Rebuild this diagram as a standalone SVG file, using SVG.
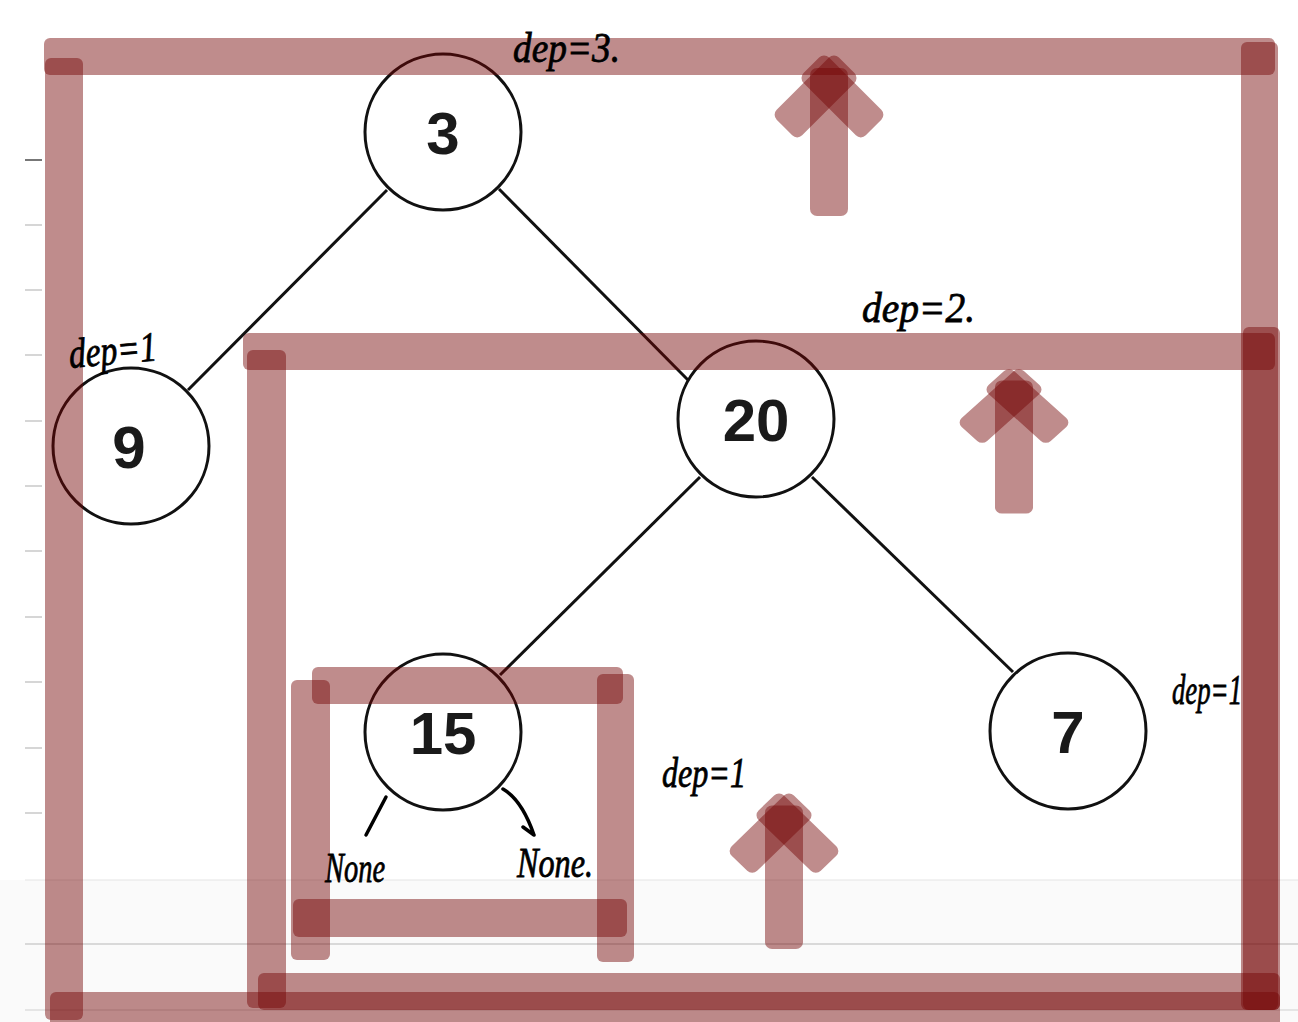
<svg xmlns="http://www.w3.org/2000/svg" width="1298" height="1022" viewBox="0 0 1298 1022">
<style>
.bar{fill:rgb(115,5,5);fill-opacity:0.46}
.node circle{fill:#fff;stroke:#111;stroke-width:3}
.node text{font-family:"Liberation Sans",Arial,sans-serif;font-weight:bold;font-size:60px;fill:#1a1a1a;text-anchor:middle}
.edge{stroke:#111;stroke-width:3;fill:none}
.hand{stroke:#000;stroke-width:3.5;fill:none;stroke-linecap:round}
.lbl{font-family:"Liberation Serif","DejaVu Serif",serif;font-style:italic;font-size:42px;fill:#000;stroke:#000;stroke-width:0.8}
.tick{stroke:#c8c8c8;stroke-width:1.5}
</style>
<defs>
<g id="arrow">
<rect class="bar" x="-19" y="16" width="38" height="148" rx="7"/>
<rect class="bar" x="-18" y="-25" width="36" height="88" rx="7" transform="translate(0,31) rotate(45)"/>
<rect class="bar" x="-18" y="-25" width="36" height="88" rx="7" transform="translate(0,31) rotate(-45)"/>
</g>
</defs>
<rect width="1298" height="1022" fill="#fff"/>
<g id="background">
<rect x="0" y="880" width="1298" height="142" fill="#fafafa"/>
<line x1="25" y1="880" x2="1298" y2="880" stroke="#e4e4e4" stroke-width="1"/>
<line x1="25" y1="944" x2="1298" y2="944" stroke="#b8b8b8" stroke-width="1.2"/>
<line x1="25" y1="1010" x2="1298" y2="1010" stroke="#d0d0d0" stroke-width="1"/>
<line x1="25" y1="160" x2="42" y2="160" stroke="#777" stroke-width="2"/>
<line class="tick" x1="25" y1="225" x2="42" y2="225"/>
<line class="tick" x1="25" y1="290" x2="42" y2="290"/>
<line class="tick" x1="25" y1="355" x2="42" y2="355"/>
<line class="tick" x1="25" y1="421" x2="42" y2="421"/>
<line class="tick" x1="25" y1="486" x2="42" y2="486"/>
<line class="tick" x1="25" y1="551" x2="42" y2="551"/>
<line class="tick" x1="25" y1="617" x2="42" y2="617"/>
<line class="tick" x1="25" y1="682" x2="42" y2="682"/>
<line class="tick" x1="25" y1="748" x2="42" y2="748"/>
<line class="tick" x1="25" y1="813" x2="42" y2="813"/>
</g>
<g id="connectors">
<line class="edge" x1="387" y1="190" x2="188" y2="390"/>
<line class="edge" x1="499" y1="189" x2="688" y2="380"/>
<line class="edge" x1="700" y1="477" x2="500" y2="675"/>
<line class="edge" x1="812" y1="477" x2="1013" y2="672"/>
<path class="hand" d="M386 797 L366 835"/>
<path class="hand" d="M503 789 Q522 800 534 835 M523 827 L534 835"/>
</g>
<g id="node-3" class="node"><circle cx="443" cy="132" r="78"/><text x="443" y="154">3</text></g>
<g id="node-9" class="node"><circle cx="131" cy="446" r="78"/><text x="129" y="468">9</text></g>
<g id="node-20" class="node"><circle cx="756" cy="419" r="78"/><text x="756" y="441">20</text></g>
<g id="node-15" class="node"><circle cx="443" cy="732" r="78"/><text x="443" y="754">15</text></g>
<g id="node-7" class="node"><circle cx="1068" cy="731" r="78"/><text x="1068" y="753">7</text></g>
<g id="frame-outer">
<rect class="bar" x="44" y="38" width="1231" height="37" rx="6"/>
<rect class="bar" x="45" y="58" width="38" height="962" rx="6"/>
<rect class="bar" x="1241" y="42" width="37" height="968" rx="6"/>
<rect class="bar" x="50" y="992" width="1230" height="40" rx="6"/>
</g>
<g id="frame-inner">
<rect class="bar" x="243" y="333" width="1032" height="37" rx="6"/>
<rect class="bar" x="247" y="350" width="39" height="658" rx="6"/>
<rect class="bar" x="1243" y="327" width="37" height="683" rx="6"/>
<rect class="bar" x="258" y="973" width="1022" height="37" rx="6"/>
</g>
<g id="frame-15">
<rect class="bar" x="312" y="667" width="311" height="37" rx="6"/>
<rect class="bar" x="291" y="680" width="39" height="280" rx="6"/>
<rect class="bar" x="597" y="674" width="37" height="288" rx="6"/>
<rect class="bar" x="293" y="899" width="334" height="38" rx="6"/>
</g>
<g id="arrows">
<use href="#arrow" transform="translate(829,52)"/>
<use href="#arrow" transform="translate(1014,366) scale(1,0.9)"/>
<use href="#arrow" transform="translate(784,790) scale(1,0.97)"/>
</g>
<g id="labels">
<text class="lbl" x="513" y="62" textLength="107" lengthAdjust="spacingAndGlyphs">dep=3.</text>
<text class="lbl" x="862" y="322" textLength="113" lengthAdjust="spacingAndGlyphs">dep=2.</text>
<text class="lbl" x="70" y="368" textLength="88" lengthAdjust="spacingAndGlyphs" transform="rotate(-5 70 368)">dep=1</text>
<text class="lbl" x="1172" y="704" textLength="70" lengthAdjust="spacingAndGlyphs">dep=1</text>
<text class="lbl" x="662" y="787" textLength="84" lengthAdjust="spacingAndGlyphs">dep=1</text>
<text class="lbl" x="325" y="882" textLength="60" lengthAdjust="spacingAndGlyphs" font-size="36">None</text>
<text class="lbl" x="517" y="877" textLength="76" lengthAdjust="spacingAndGlyphs" font-size="36">None.</text>
</g>
</svg>
